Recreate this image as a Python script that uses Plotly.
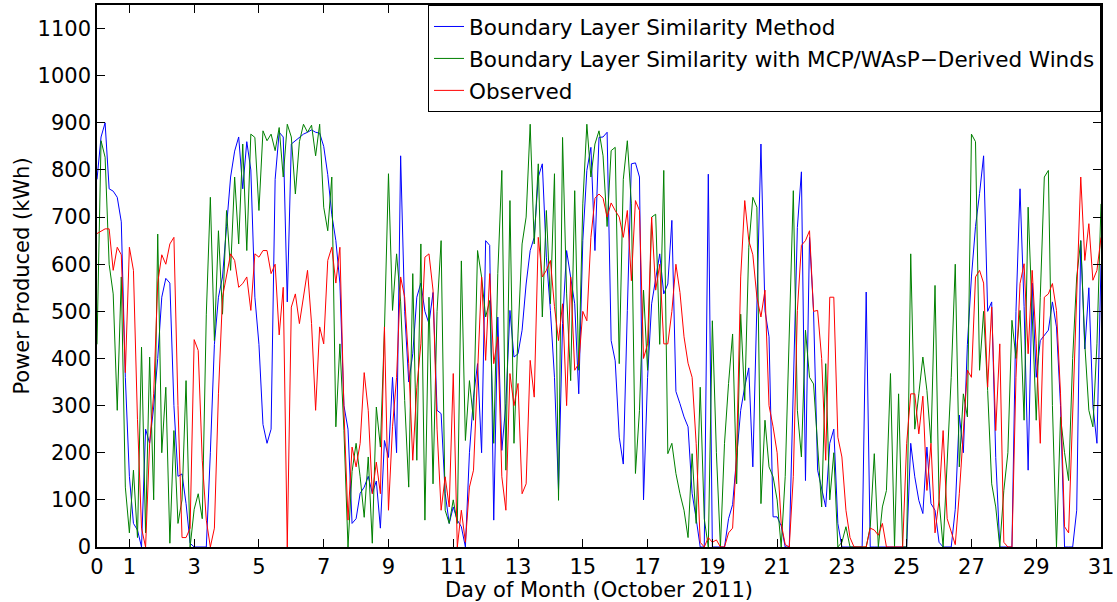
import numpy as np
import plotly.graph_objects as go

# 3-hourly samples, October 2011 (day 0 .. day 31)
blue = [780, 870, 900, 760, 755, 742, 690, 360, 150, 50, 36, 0, 250, 220, 297, 400,
        530, 570, 560, 300, 150, 155, 92, 8, 0, 0, 0, 0, 200, 430, 530, 573,
        680, 785, 840, 870, 760, 860, 800, 530, 430, 260, 220, 250, 780, 880, 870, 520,
        855, 862, 870, 876, 880, 885, 880, 878, 850, 790, 705, 650, 560, 300, 250, 50,
        60, 114, 127, 150, 114, 140, 40, 226, 190, 360, 200, 830, 500, 350, 410, 530,
        560, 500, 474, 540, 290, 283, 114, 50, 85, 57, 43, 0, 200, 318, 389, 200,
        650, 640, 57, 488, 205, 304, 502, 403, 410, 460, 558, 629, 657, 785, 813, 615,
        502, 360, 120, 474, 629, 573, 516, 325, 650, 799, 848, 629, 869, 870, 880, 438,
        395, 233, 176, 502, 813, 815, 785, 100, 360, 516, 573, 622, 537, 558, 693, 330,
        304, 276, 255, 114, 60, 0, 0, 791, 0, 0, 0, 0, 60, 90, 191, 290,
        340, 380, 170, 540, 855, 502, 446, 64, 64, 45, 0, 0, 325, 678, 796, 141,
        657, 500, 163, 127, 85, 220, 250, 50, 0, 0, 0, 0, 0, 0, 541, 0,
        0, 0, 0, 0, 0, 0, 0, 0, 0, 220, 149, 99, 71, 212, 92, 78,
        10, 0, 0, 0, 80, 280, 200, 430, 573, 680, 750, 830, 500, 520, 190, 0,
        0, 0, 0, 500, 760, 510, 163, 560, 360, 438, 450, 460, 520, 467, 300, 0,
        0, 0, 78, 650, 420, 550, 300, 220, 600]

green = [430, 862, 827, 600, 537, 290, 573, 127, 30, 163, 20, 424, 30, 403, 100, 664,
         200, 339, 8, 247, 50, 100, 353, 0, 80, 113, 60, 494, 742, 438, 671, 494,
         714, 587, 785, 643, 855, 629, 876, 869, 714, 883, 862, 876, 841, 890, 785, 897,
         870, 749, 860, 897, 880, 895, 830, 897, 721, 671, 785, 255, 431, 247, 0, 160,
         220, 149, 63, 191, 8, 297, 212, 460, 792, 502, 622, 520, 311, 127, 580, 184,
         643, 57, 530, 134, 500, 650, 78, 50, 100, 50, 607, 226, 353, 269, 629, 573,
         488, 523, 220, 580, 799, 163, 735, 220, 452, 643, 700, 897, 643, 813, 488, 714,
         516, 792, 99, 869, 537, 353, 756, 375, 728, 897, 785, 855, 883, 830, 680, 841,
         848, 389, 780, 862, 728, 156, 290, 545, 375, 700, 706, 430, 799, 198, 220, 156,
         113, 78, 20, 198, 50, 339, 60, 0, 480, 200, 0, 220, 347, 452, 134, 494,
         311, 636, 742, 721, 92, 269, 170, 149, 100, 0, 150, 438, 756, 290, 191, 460,
         360, 346, 220, 85, 389, 100, 200, 0, 10, 43, 0, 0, 0, 0, 0, 43,
         198, 0, 85, 120, 368, 0, 325, 0, 0, 622, 250, 325, 403, 332, 220, 555,
         100, 0, 180, 360, 600, 170, 325, 276, 876, 860, 375, 500, 332, 134, 85, 0,
         120, 200, 481, 400, 502, 269, 721, 500, 269, 530, 785, 799, 300, 0, 276, 200,
         141, 400, 573, 650, 431, 290, 255, 431, 728]

red = [665, 670, 675, 675, 587, 636, 620, 370, 636, 587, 270, 40, 0, 220, 325, 560,
       620, 600, 643, 657, 300, 20, 20, 40, 440, 417, 184, 57, 0, 40, 325, 530,
       573, 622, 608, 551, 559, 573, 502, 622, 615, 629, 629, 580, 600, 450, 551, 0,
       509, 537, 474, 530, 587, 474, 290, 467, 431, 608, 636, 560, 636, 290, 57, 212,
       170, 220, 370, 290, 113, 180, 113, 467, 78, 255, 360, 573, 530, 389, 184, 339,
       431, 615, 622, 545, 250, 78, 149, 85, 368, 0, 78, 10, 127, 163, 375, 573,
       396, 580, 389, 446, 149, 78, 368, 300, 347, 113, 134, 396, 318, 657, 573, 587,
       608, 510, 438, 516, 300, 573, 375, 389, 500, 480, 657, 740, 749, 740, 700, 730,
       714, 700, 657, 714, 565, 735, 714, 400, 431, 700, 545, 600, 431, 431, 500, 600,
       540, 446, 390, 360, 220, 10, 0, 20, 10, 15, 0, 0, 30, 40, 200, 573,
       735, 650, 620, 530, 488, 545, 300, 255, 200, 50, 5, 0, 150, 502, 640, 650,
       671, 500, 502, 400, 184, 530, 530, 233, 191, 78, 20, 0, 0, 0, 0, 40,
       36, 25, 50, 0, 0, 0, 0, 0, 220, 325, 325, 240, 320, 120, 220, 30,
       100, 247, 60, 30, 5, 113, 255, 375, 360, 573, 587, 560, 339, 509, 247, 431,
       10, 0, 0, 360, 559, 601, 410, 587, 431, 220, 530, 537, 559, 502, 325, 43,
       30, 290, 537, 785, 608, 686, 566, 587, 657]

SERIES = [("Boundary Layer Similarity Method", blue, "#0000ff"),
          ("Boundary Layer Similarity with MCP/WAsP\u2212Derived Winds", green, "#008000"),
          ("Observed", red, "#ff0000")]
x_ticks = [0, 1, 3, 5, 7, 9, 11, 13, 15, 17, 19, 21, 23, 25, 27, 29, 31]
y_ticks = list(range(0, 1101, 100))

FONT = "DejaVu Sans, Arial, sans-serif"

fig = go.Figure()
for i, (name, vals, color) in enumerate(SERIES):
    days = np.arange(len(vals)) / 8.0
    fig.add_trace(go.Scatter(x=days, y=vals, mode="lines", name=name, legendgroup=str(i),
                             line=dict(color=color, width=1)))

axis_style = dict(showline=True, linecolor="black", linewidth=1.5, mirror="ticks",
                  ticks="inside", ticklen=8, tickcolor="black", tickwidth=1,
                  showgrid=False, zeroline=False, tickfont=dict(size=21, color="black"))

fig.update_layout(
    width=1117, height=602,
    margin=dict(l=97, r=16, t=5, b=55),
    plot_bgcolor="white", paper_bgcolor="white",
    font=dict(family=FONT, color="black"),
    xaxis=dict(range=[0, 31], tickvals=x_ticks, automargin=False,
               title=dict(text="Day of Month (October 2011)", font=dict(size=21), standoff=0),
               **axis_style),
    yaxis=dict(range=[0, 1150], tickvals=y_ticks, automargin=False,
               title=dict(text="Power Produced (kWh)", font=dict(size=21), standoff=2),
               **axis_style),
    legend=dict(x=1.0, y=1.0, xanchor="right", yanchor="top",
                bgcolor="white", bordercolor="black", borderwidth=1,
                font=dict(size=21.5), tracegroupgap=1, itemwidth=30),
)

# page body margin would shift the figure by 8px
fig.write_html("out.html", config={"displayModeBar": False},
               post_script="document.body.style.margin='0px';")
